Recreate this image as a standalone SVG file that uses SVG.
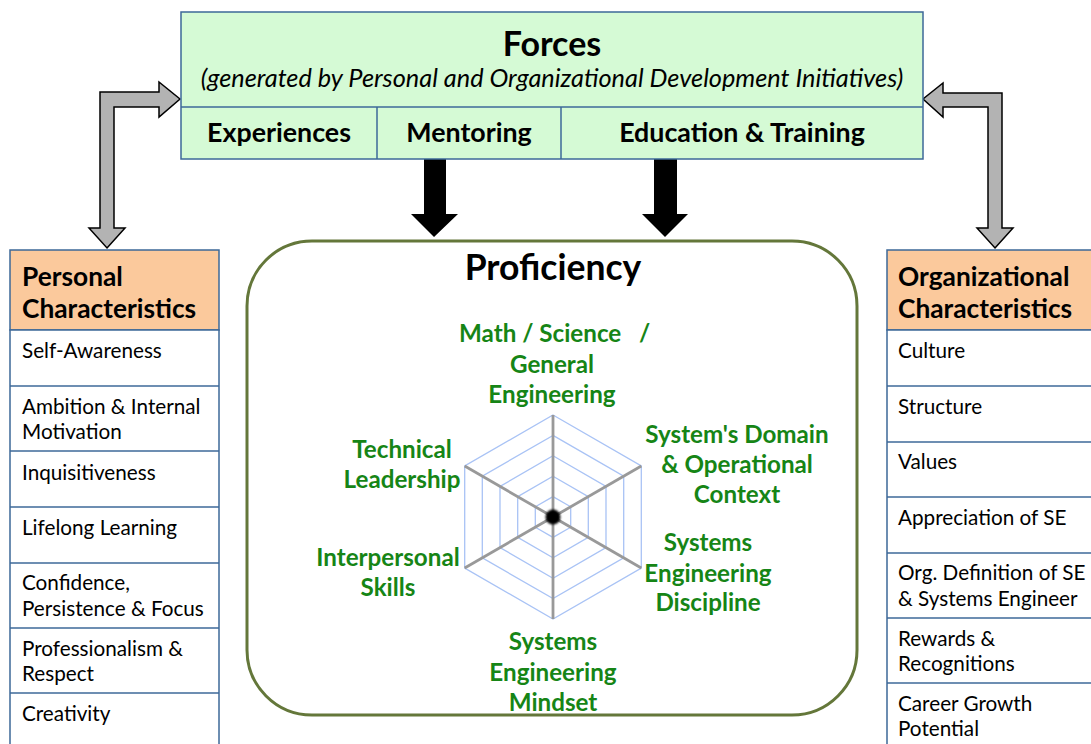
<svg xmlns="http://www.w3.org/2000/svg" width="1091" height="744" viewBox="0 0 1091 744">
<style>
text{font-family:Lato,"Open Sans","Liberation Sans",sans-serif;fill:#000}
.b{font-weight:bold}
.hd{font-size:26.3px;font-weight:bold}
.it{font-size:25.3px;font-style:italic}
.row{font-size:20.7px}
.g{font-size:24.2px;font-weight:bold;fill:#168516;text-anchor:middle}
.box{stroke:#3d6898;stroke-width:1.5}
.garrow{fill:#b3b3b3;stroke:#000;stroke-width:1.5}
.web{fill:none;stroke:#a9c3f5;stroke-width:1.3}
.axis{stroke:#999;stroke-width:2.8}
.c{text-anchor:middle}
</style>
<defs>
<filter id="bl" x="-50%" y="-50%" width="200%" height="200%"><feGaussianBlur stdDeviation="0.8"/></filter>
</defs>

<g id="connectors">
<polygon class="garrow" points="107,248 125,228 114,228 114,107 159,107 159,117 180,99 159,82 159,92 100,92 100,228 89,228"/>
<polygon class="garrow" points="995,248 1013,228 1002,228 1002,93 943,93 943,83 923,99 943,117 943,107 988,107 988,228 977,228"/>
<polygon fill="#000" points="424,159 446,159 446,214 458,214 434,237 411,214 424,214"/>
<polygon fill="#000" points="654,159 677,159 677,214 688,214 665,237 642,214 654,214"/>
</g>

<g id="forces">
<rect class="box" x="181" y="12" width="742" height="147" fill="#d5fad5"/>
<line class="box" x1="181" y1="107" x2="923" y2="107"/>
<line class="box" x1="377" y1="107" x2="377" y2="159"/>
<line class="box" x1="561" y1="107" x2="561" y2="159"/>
<text class="c b" x="552" y="56" font-size="34">Forces</text>
<text class="c it" x="552" y="87">(generated by Personal and Organizational Development Initiatives)</text>
<text class="c b" x="279" y="142" font-size="26.8">Experiences</text>
<text class="c b" x="469" y="142" font-size="26.8">Mentoring</text>
<text class="c b" x="742" y="142" font-size="26.8">Education &amp; Training</text>
</g>

<g id="proficiency">
<rect x="247" y="241" width="610" height="474" rx="65" ry="65" fill="#fff" stroke="#64773a" stroke-width="3"/>
<text class="c b" x="553" y="280" font-size="35.5">Proficiency</text>
<g id="radar">
<polygon class="web" points="553,415 641.3,466 641.3,568 553,619 464.7,568 464.7,466"/>
<polygon class="web" points="553,435.4 623.7,476.2 623.7,557.8 553,598.6 482.3,557.8 482.3,476.2"/>
<polygon class="web" points="553,455.8 606,486.4 606,547.6 553,578.2 500,547.6 500,486.4"/>
<polygon class="web" points="553,476.2 588.3,496.6 588.3,537.4 553,557.8 517.7,537.4 517.7,496.6"/>
<polygon class="web" points="553,496.6 570.7,506.8 570.7,527.2 553,537.4 535.3,527.2 535.3,506.8"/>
<line class="axis" x1="553" y1="517" x2="553" y2="415"/>
<line class="axis" x1="553" y1="517" x2="641.3" y2="466"/>
<line class="axis" x1="553" y1="517" x2="641.3" y2="568"/>
<line class="axis" x1="553" y1="517" x2="553" y2="619"/>
<line class="axis" x1="553" y1="517" x2="464.7" y2="568"/>
<line class="axis" x1="553" y1="517" x2="464.7" y2="466"/>
<circle cx="553" cy="517" r="7.5" fill="#000" filter="url(#bl)"/>
</g>
<text class="g" x="459" y="342" text-anchor="start" style="text-anchor:start;white-space:pre" xml:space="preserve">Math / Science   /</text>
<text class="g" x="552" y="373">General</text>
<text class="g" x="552" y="403">Engineering</text>
<text class="g" x="737" y="443">System's Domain</text>
<text class="g" x="737" y="473">&amp; Operational</text>
<text class="g" x="737" y="503">Context</text>
<text class="g" x="402" y="458">Technical</text>
<text class="g" x="402" y="488">Leadership</text>
<text class="g" x="388" y="566">Interpersonal</text>
<text class="g" x="388" y="596">Skills</text>
<text class="g" x="708" y="551">Systems</text>
<text class="g" x="708" y="582">Engineering</text>
<text class="g" x="708" y="611">Discipline</text>
<text class="g" x="553" y="650">Systems</text>
<text class="g" x="553" y="681">Engineering</text>
<text class="g" x="553" y="711">Mindset</text>
</g>

<g id="personal">
<rect class="box" x="10" y="250" width="209" height="80" fill="#fbc99c"/>
<rect class="box" x="10" y="330" width="209" height="420" fill="#fff"/>
<line class="box" x1="10" y1="386" x2="219" y2="386"/>
<line class="box" x1="10" y1="451" x2="219" y2="451"/>
<line class="box" x1="10" y1="507" x2="219" y2="507"/>
<line class="box" x1="10" y1="563" x2="219" y2="563"/>
<line class="box" x1="10" y1="628" x2="219" y2="628"/>
<line class="box" x1="10" y1="693" x2="219" y2="693"/>
<text class="hd" x="22" y="286">Personal</text>
<text class="hd" x="22" y="318">Characteristics</text>
<text class="row" x="22" y="358">Self-Awareness</text>
<text class="row" x="22" y="414">Ambition &amp; Internal</text>
<text class="row" x="22" y="439">Motivation</text>
<text class="row" x="22" y="480">Inquisitiveness</text>
<text class="row" x="22" y="535">Lifelong Learning</text>
<text class="row" x="22" y="590">Confidence,</text>
<text class="row" x="22" y="616">Persistence &amp; Focus</text>
<text class="row" x="22" y="656">Professionalism &amp;</text>
<text class="row" x="22" y="681">Respect</text>
<text class="row" x="22" y="721">Creativity</text>
</g>

<g id="organizational">
<rect class="box" x="887" y="250" width="210" height="80" fill="#fbc99c"/>
<rect class="box" x="887" y="330" width="210" height="420" fill="#fff"/>
<line class="box" x1="887" y1="386" x2="1097" y2="386"/>
<line class="box" x1="887" y1="442" x2="1097" y2="442"/>
<line class="box" x1="887" y1="497" x2="1097" y2="497"/>
<line class="box" x1="887" y1="553" x2="1097" y2="553"/>
<line class="box" x1="887" y1="618" x2="1097" y2="618"/>
<line class="box" x1="887" y1="683" x2="1097" y2="683"/>
<text class="hd" x="898" y="286">Organizational</text>
<text class="hd" x="898" y="318">Characteristics</text>
<text class="row" x="898" y="358">Culture</text>
<text class="row" x="898" y="414">Structure</text>
<text class="row" x="898" y="469">Values</text>
<text class="row" x="898" y="525">Appreciation of SE</text>
<text class="row" x="898" y="580">Org. Definition of SE</text>
<text class="row" x="898" y="606">&amp; Systems Engineer</text>
<text class="row" x="898" y="646">Rewards &amp;</text>
<text class="row" x="898" y="671">Recognitions</text>
<text class="row" x="898" y="711">Career Growth</text>
<text class="row" x="898" y="736">Potential</text>
</g>
</svg>
